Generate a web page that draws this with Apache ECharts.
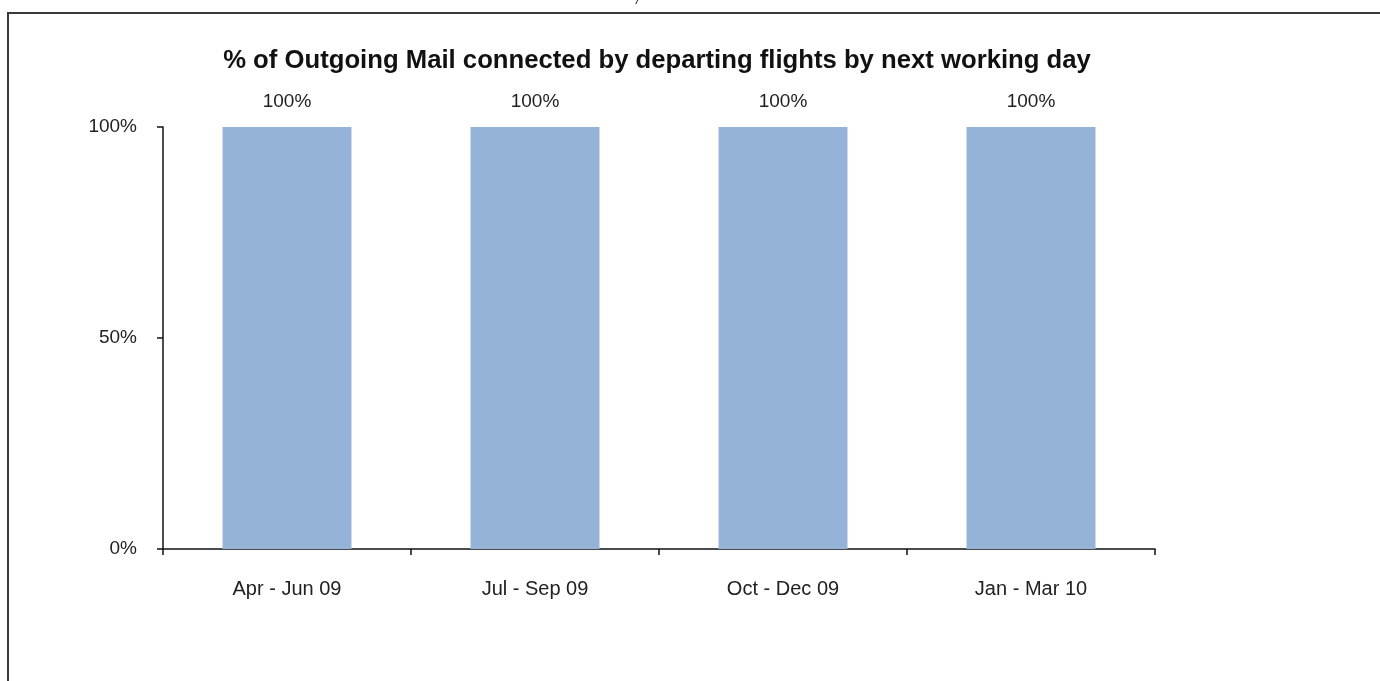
<!DOCTYPE html>
<html>
<head>
<meta charset="utf-8">
<script src="https://cdn.jsdelivr.net/npm/echarts@6/dist/echarts.min.js"></script>
<style>
html,body{margin:0;padding:0;background:#fff;}
#c{width:1380px;height:681px;}
</style>
</head>
<body>
<div id="c"></div>
<script>
var categories = ['Apr - Jun 09', 'Jul - Sep 09', 'Oct - Dec 09', 'Jan - Mar 10'];
var values = [100, 100, 100, 100];
var yTicks = [0, 50, 100];
var titleText = '% of Outgoing Mail connected by departing flights by next working day';

var chart = echarts.init(document.getElementById('c'));
var font = '"Liberation Sans", Arial, sans-serif';
chart.setOption({
  animation: false,
  backgroundColor: '#fff',
  title: {
    text: titleText,
    left: 652,
    textAlign: 'center',
    top: 43,
    textStyle: { fontFamily: font, fontSize: 25.7, fontWeight: 'bold', color: '#111' }
  },
  graphic: [
    { type: 'rect', shape: { x: 8, y: 13, width: 1400, height: 720 },
      style: { fill: 'none', stroke: '#3a3a3a', lineWidth: 2 }, silent: true },
    { type: 'text', x: 636, y: -6,
      style: { text: '/', font: 'italic 13px ' + font, fill: '#222' }, silent: true }
  ],
  grid: { left: 163, right: 225, top: 127, bottom: 132 },
  xAxis: {
    type: 'category',
    data: categories,
    axisLine: { lineStyle: { color: '#111', width: 1.5 } },
    axisTick: { show: true, length: 6, alignWithLabel: false, lineStyle: { color: '#111', width: 1.5 } },
    axisLabel: { margin: 30, fontFamily: font, fontSize: 20, color: '#222' }
  },
  yAxis: {
    type: 'value',
    min: yTicks[0],
    max: yTicks[yTicks.length - 1],
    interval: yTicks[1] - yTicks[0],
    splitLine: { show: false },
    axisLine: { show: true, lineStyle: { color: '#111', width: 1.5 } },
    axisTick: { show: true, length: 6, lineStyle: { color: '#111', width: 1.5 } },
    axisLabel: { margin: 26, fontFamily: font, fontSize: 19, color: '#222', formatter: '{value}%' }
  },
  series: [{
    type: 'bar',
    data: values,
    barWidth: '52%',
    itemStyle: { color: '#95B3D7' },
    label: {
      show: true, position: 'top', distance: 16,
      formatter: '{c}%', fontFamily: font, fontSize: 19, color: '#222'
    }
  }]
});
</script>
</body>
</html>
